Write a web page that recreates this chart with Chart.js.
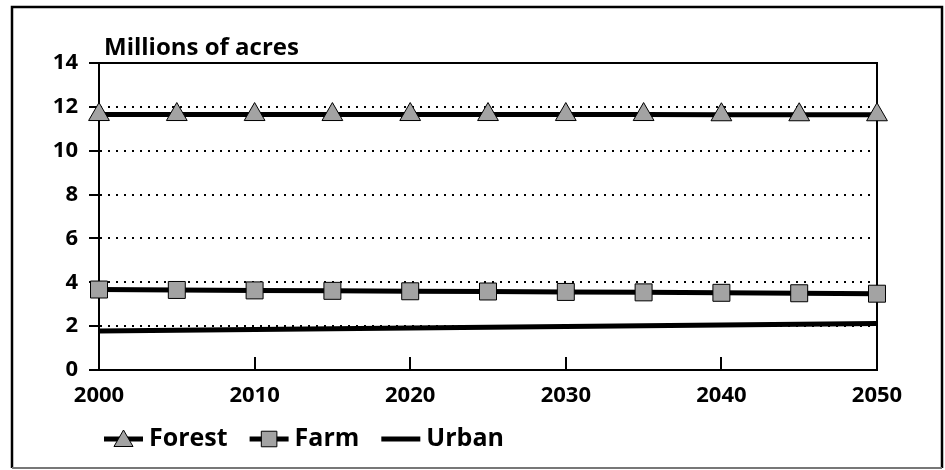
<!DOCTYPE html>
<html>
<head>
<meta charset="utf-8">
<title>Millions of acres</title>
<script src="https://cdn.jsdelivr.net/npm/chart.js@4.4.0/dist/chart.umd.min.js"></script>
<style>
	html, body { margin: 0; padding: 0; background: #fff; }
	#wrap { width: 945px; height: 470px; }
</style>
</head>
<body>
<div id="wrap"><canvas id="land_chart" width="945" height="470"></canvas></div>
<script>
'use strict';

// values (millions of acres)
var years = [2000, 2005, 2010, 2015, 2020, 2025, 2030, 2035, 2040, 2045, 2050];
var forest = [11.65, 11.65, 11.65, 11.65, 11.65, 11.65, 11.65, 11.65, 11.64, 11.64, 11.64];
var farm = [3.67, 3.65, 3.63, 3.61, 3.59, 3.58, 3.56, 3.54, 3.52, 3.50, 3.48];
var urban = [1.78, 1.81, 1.85, 1.88, 1.92, 1.95, 1.98, 2.02, 2.05, 2.09, 2.12];
var y_ticks = [0, 2, 4, 6, 8, 10, 12, 14];
var x_ticks = [2000, 2010, 2020, 2030, 2040, 2050];
var unit_label = "Millions of acres";

(function(){

	var FONT = "'Open Sans', 'DejaVu Sans', sans-serif";
	var GREY = "#a3a3a3";

	var pairs = function(ys){
		return years.map(function(y, i){ return {x: y, y: ys[i]}; });
	};

	// outer frame, title, plot box, inside ticks and the legend
	var decor = {
		id: 'decor',
		beforeDraw: function(chart){
			var ctx = chart.ctx;
			ctx.save();
			ctx.fillStyle = "#fff";
			ctx.fillRect(0, 0, chart.width, chart.height);
			ctx.lineWidth = 2.5;
			ctx.strokeStyle = "#000";
			ctx.beginPath();
			ctx.moveTo(12, 468);
			ctx.lineTo(12, 7);
			ctx.lineTo(942, 7);
			ctx.lineTo(942, 468);
			ctx.stroke();
			ctx.strokeStyle = "#777";
			ctx.lineWidth = 2;
			ctx.beginPath();
			ctx.moveTo(12, 468);
			ctx.lineTo(942, 468);
			ctx.stroke();
			ctx.restore();
		},
		beforeDatasetsDraw: function(chart){
			var ctx = chart.ctx, a = chart.chartArea, xs = chart.scales.x;
			ctx.save();
			ctx.strokeStyle = "#000";
			ctx.lineWidth = 2;
			ctx.beginPath();
			ctx.moveTo(a.left, a.top);
			ctx.lineTo(a.right, a.top);
			ctx.lineTo(a.right, a.bottom);
			ctx.stroke();
			// tick marks pointing up into the plot
			x_ticks.forEach(function(t){
				var px = Math.round(xs.getPixelForValue(t));
				ctx.beginPath();
				ctx.moveTo(px, a.bottom);
				ctx.lineTo(px, a.bottom - 13);
				ctx.stroke();
			});
			ctx.restore();
		},
		afterDraw: function(chart){
			var ctx = chart.ctx, a = chart.chartArea;
			ctx.save();
			ctx.fillStyle = "#000";
			ctx.font = "bold 24px " + FONT;
			ctx.textBaseline = "alphabetic";
			ctx.fillText(unit_label, a.left + 5, a.top - 8);

			// legend: line with the marker in the middle
			var x = 104, y = 439;
			chart.data.datasets.forEach(function(ds){
				ctx.strokeStyle = "#000";
				ctx.lineWidth = 5;
				ctx.beginPath();
				ctx.moveTo(x, y);
				ctx.lineTo(x + 39, y);
				ctx.stroke();
				if (ds.pointRadius > 0) {
					ctx.fillStyle = GREY;
					ctx.lineWidth = 1;
					Chart.helpers.drawPoint(ctx, {
						pointStyle: ds.pointStyle, radius: 11, rotation: 0, borderWidth: 1
					}, x + 19.5, ds.pointStyle === 'triangle' ? y + 2 : y);
				}
				ctx.fillStyle = "#000";
				ctx.font = "bold 25px " + FONT;
				ctx.textBaseline = "middle";
				ctx.fillText(ds.label, x + 45, y);
				x += 45 + ctx.measureText(ds.label).width + 22;
			});
			ctx.restore();
		}
	};

	var land_chart = function(id){
		var ctx = document.getElementById(id).getContext("2d");
		var data = {
			datasets : [
				{
					label : "Forest",
					data : pairs(forest),
					borderColor : "#000",
					borderWidth : 5,
					pointStyle : 'triangle',
					pointRadius : 12,
					pointBackgroundColor : GREY,
					pointBorderColor : "#000",
					pointBorderWidth : 1,
					clip : false
				},
				{
					label : "Farm",
					data : pairs(farm),
					borderColor : "#000",
					borderWidth : 5,
					pointStyle : 'rect',
					pointRadius : 12,
					pointBackgroundColor : GREY,
					pointBorderColor : "#000",
					pointBorderWidth : 1,
					clip : false
				},
				{
					label : "Urban",
					data : pairs(urban),
					borderColor : "#000",
					borderWidth : 5,
					pointRadius : 0,
					clip : false
				}
			]
		};

		var options = {
			responsive : false,
			animation : false,
			layout : { padding : { left : 0, right : 68, top : 63, bottom : 0 } },
			plugins : {
				legend : { display : false },
				tooltip : { enabled : false }
			},
			scales : {
				x : {
					type : 'linear',
					min : 2000,
					max : 2050,
					afterBuildTicks : function(s){ s.ticks = x_ticks.map(function(v){ return {value: v}; }); },
					afterFit : function(s){ s.height = 100; },
					grid : { display : false },
					border : { display : true, color : "#000", width : 2 },
					ticks : {
						color : "#000",
						padding : 5,
						maxRotation : 0,
						font : { family : FONT, size : 22, weight : 'bold' },
						callback : function(v){ return String(v); }
					}
				},
				y : {
					min : 0,
					max : 14,
					afterBuildTicks : function(s){ s.ticks = y_ticks.map(function(v){ return {value: v}; }); },
					afterFit : function(s){ s.width = 99; },
					grid : {
						color : function(c){ return (c.tick && (c.tick.value === 0 || c.tick.value === 14)) ? 'rgba(0,0,0,0)' : '#000'; },
						lineWidth : 2,
						tickColor : "#000",
						tickLength : 10,
						tickWidth : 2,
						tickBorderDash : []
					},
					border : { display : true, color : "#000", width : 2, dash : [2, 6] },
					ticks : {
						color : "#000",
						padding : 11,
						font : { family : FONT, size : 22, weight : 'bold' }
					}
				}
			}
		};

		// actually draw the chart
		new Chart(ctx, { type : 'line', data : data, options : options, plugins : [decor] });
	};

	land_chart("land_chart");

})();
</script>
</body>
</html>
